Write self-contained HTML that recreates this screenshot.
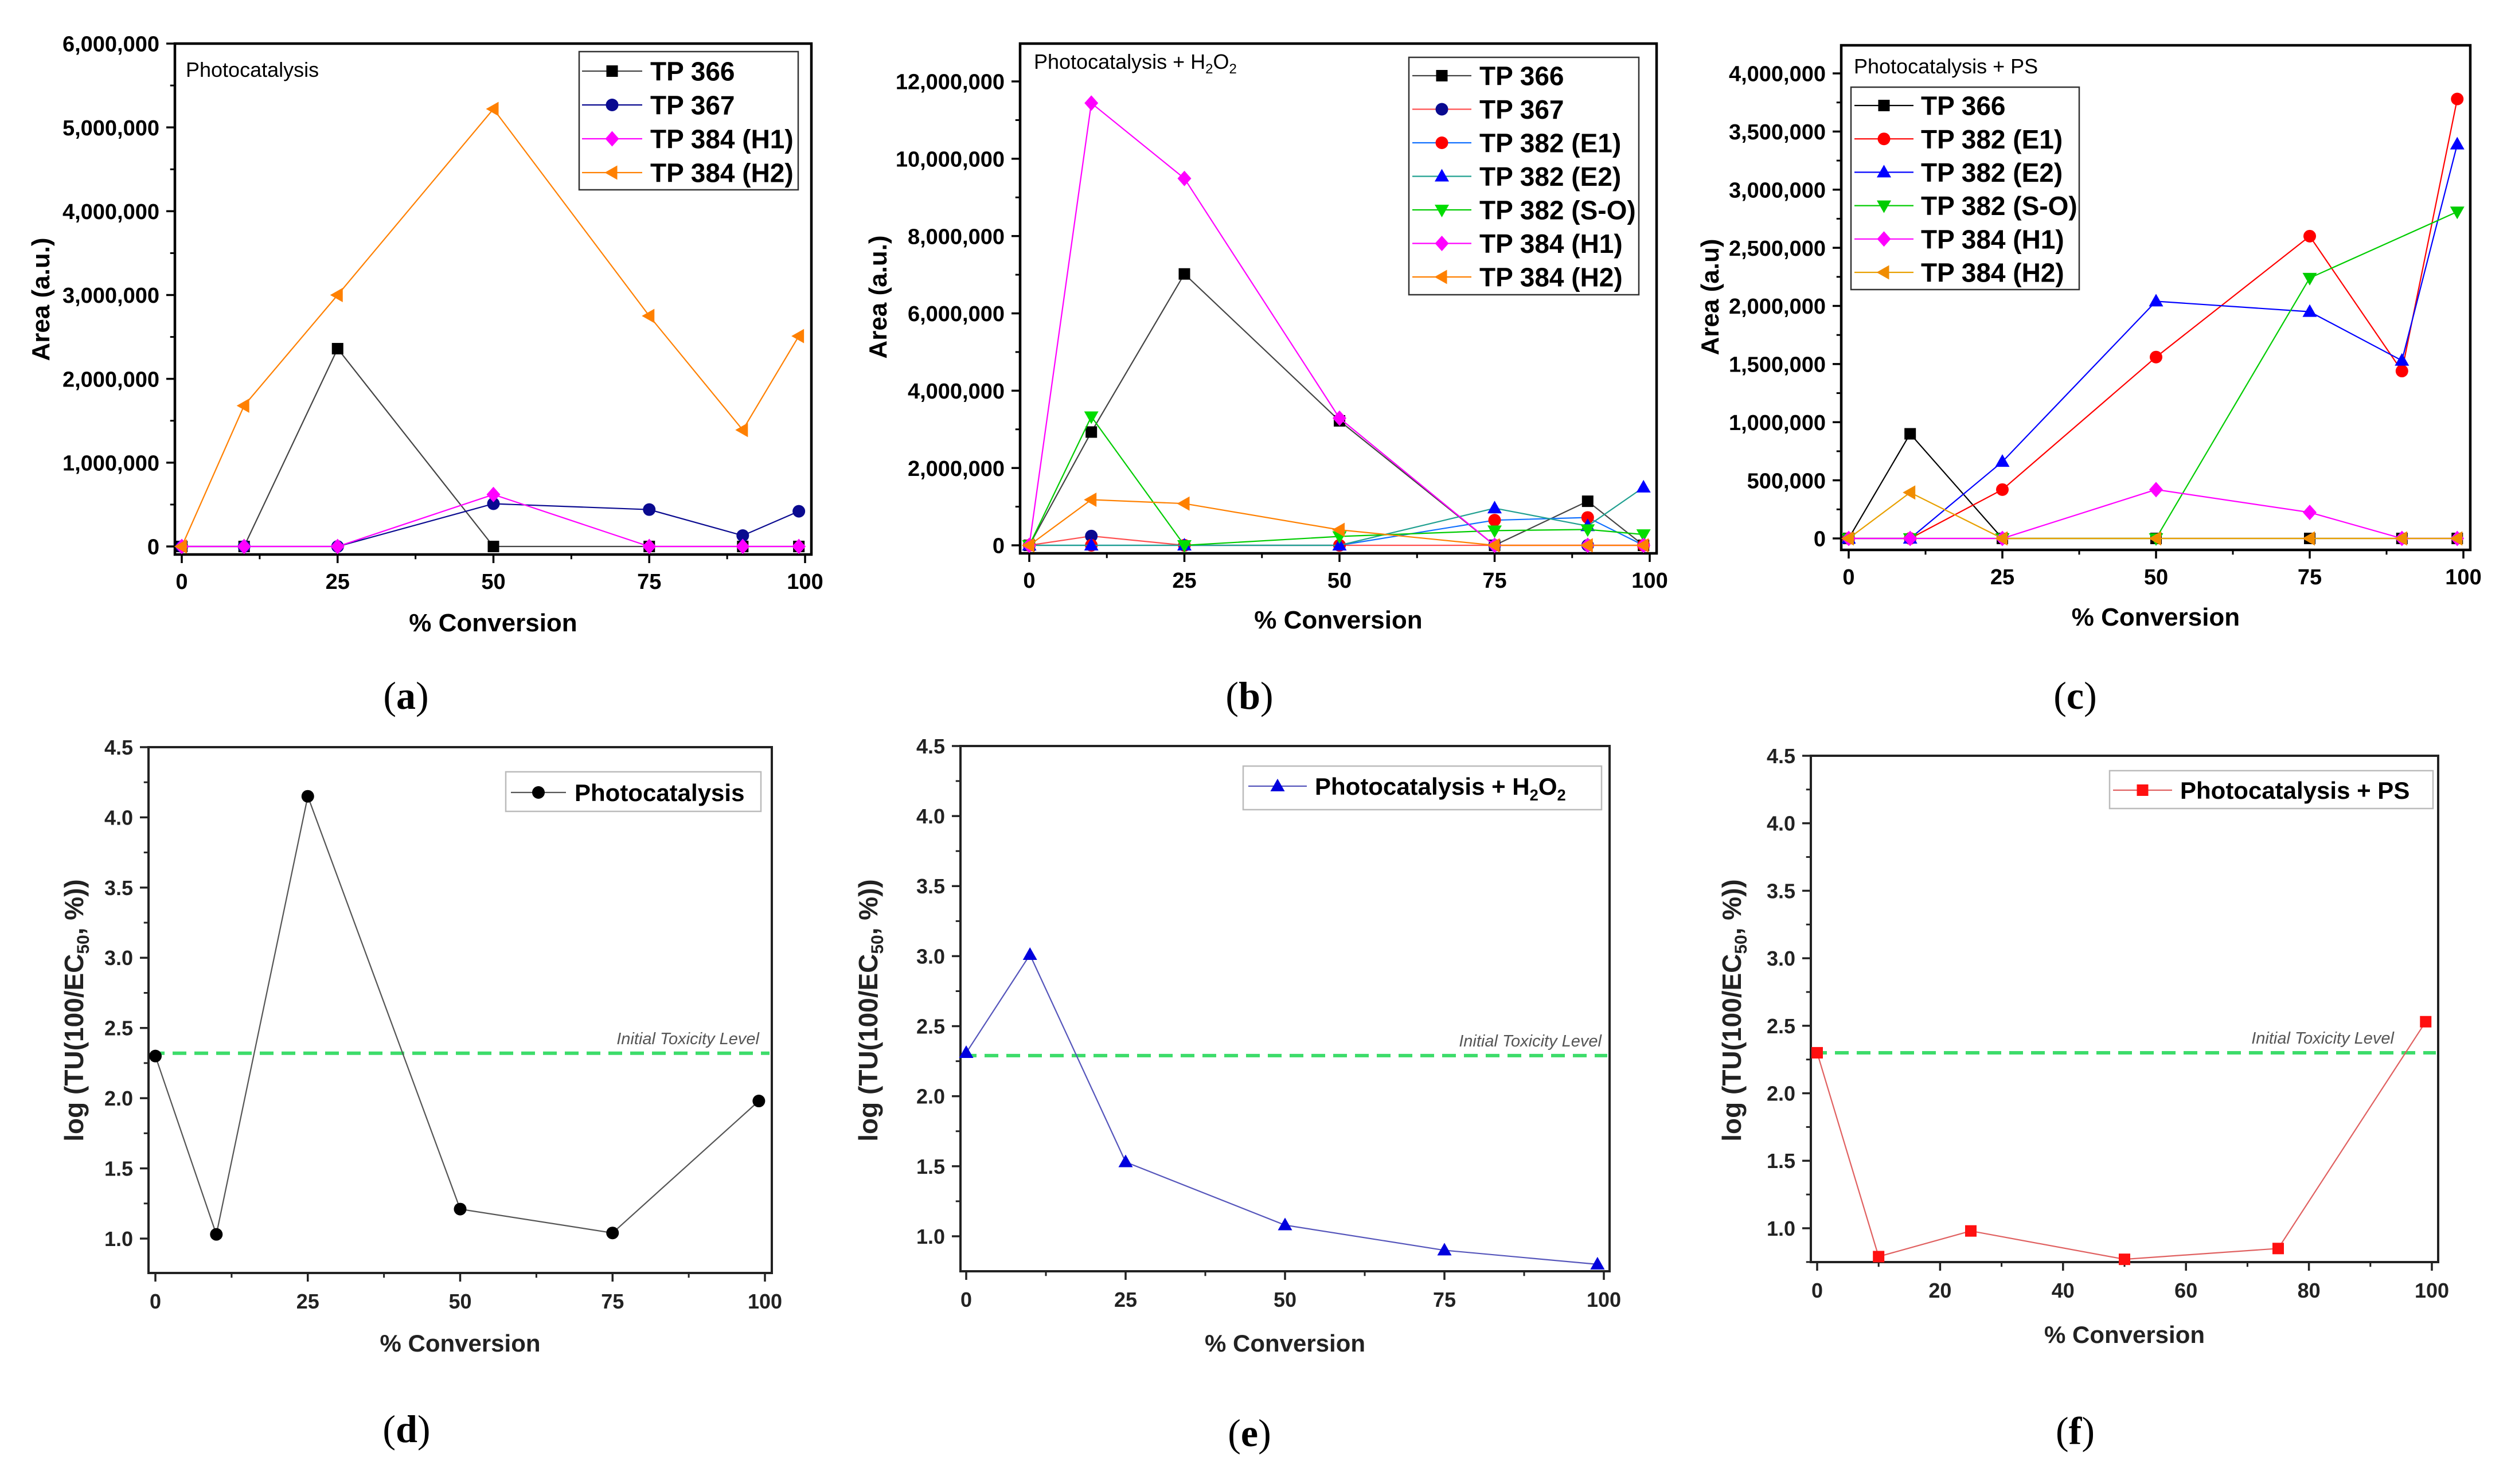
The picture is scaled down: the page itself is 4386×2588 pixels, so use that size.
<!DOCTYPE html>
<html><head><meta charset="utf-8"><title>Conversion charts</title>
<style>
html,body{margin:0;padding:0;background:#fff;}
svg{display:block;}
text{font-family:"Liberation Sans",sans-serif;}
text.serif{font-family:"Liberation Serif",serif;}
</style></head>
<body>
<svg id="fig" xmlns="http://www.w3.org/2000/svg" width="4386" height="2588" viewBox="0 0 4386 2588">
<rect x="0" y="0" width="4386" height="2588" fill="#fff"/>
</svg>
<script>
// ---------- DATA ----------
const xTop = [0, 10, 25, 50, 75, 90, 99];
const xBottom = [0, 10, 25, 50, 75, 99];

const aTP366 = [0, 0, 2360000, 0, 0, 0, 0];
const aTP367 = [0, 0, 0, 510000, 440000, 130000, 420000];
const aTP384H1 = [0, 0, 0, 620000, 0, 0, 0];
const aTP384H2 = [0, 1680000, 3000000, 5220000, 2750000, 1390000, 2510000];
const aYTicks = [0, 1000000, 2000000, 3000000, 4000000, 5000000, 6000000];

const bTP366 = [0, 2930000, 7020000, 3220000, 0, 1140000, 0];
const bTP367 = [0, 240000, 0, 0, 0, 0, 0];
const bTP382E1 = [0, 0, 0, 0, 650000, 720000, 0];
const bTP382E2 = [0, 0, 0, 0, 960000, 500000, 1500000];
const bTP382SO = [0, 3330000, 0, 230000, 380000, 410000, 280000];
const bTP384H1 = [0, 11440000, 9490000, 3290000, 0, 0, 0];
const bTP384H2 = [0, 1180000, 1080000, 400000, 0, 0, 0];
const bYTicks = [0, 2000000, 4000000, 6000000, 8000000, 10000000, 12000000];

const cTP366 = [0, 900000, 0, 0, 0, 0, 0];
const cTP382E1 = [0, 0, 420000, 1560000, 2600000, 1440000, 3780000];
const cTP382E2 = [0, 0, 660000, 2040000, 1950000, 1530000, 3390000];
const cTP382SO = [0, 0, 0, 0, 2240000, null, 2810000];
const cTP384H1 = [0, 0, 0, 420000, 224000, 0, 0];
const cTP384H2 = [0, 395000, 0, 0, 0, 0, 0];
const cYTicks = [0, 500000, 1000000, 1500000, 2000000, 2500000, 3000000, 3500000, 4000000];

const dValues = [2.30, 1.03, 4.15, 1.21, 1.04, 1.98];
const eValues = [2.31, 3.01, 1.53, 1.08, 0.90, 0.80];
const fValues = [2.30, 0.79, 0.98, 0.77, 0.85, 2.53];
const initialToxicity = [2.32, 2.29, 2.30];
const toxYTicks = [1.0, 1.5, 2.0, 2.5, 3.0, 3.5, 4.0, 4.5];
const xTicks25 = [0, 25, 50, 75, 100];
const xTicks20 = [0, 20, 40, 60, 80, 100];

// ---------- DRAWING ----------
const NS = 'http://www.w3.org/2000/svg';
const svg = document.getElementById('fig');
function mk(tag, attrs, parent) {
  const e = document.createElementNS(NS, tag);
  for (const k in attrs) e.setAttribute(k, attrs[k]);
  (parent || svg).appendChild(e);
  return e;
}
function scaler(p) {
  return {
    x: v => p.x0 + (v - p.xmin) / (p.xmax - p.xmin) * (p.x1 - p.x0),
    y: v => p.yv0px + (v - p.yv0) / (p.yv1 - p.yv0) * (p.yv1px - p.yv0px)
  };
}
function marker(g, type, cx, cy, s, color) {
  let e;
  if (type === 'square') e = mk('rect', {x: cx - s, y: cy - s, width: 2 * s, height: 2 * s, fill: color}, g);
  else if (type === 'circle') e = mk('circle', {cx: cx, cy: cy, r: s * 1.1, fill: color}, g);
  else if (type === 'diamond') e = mk('polygon', {points: `${cx},${cy - s * 1.35} ${cx + s * 1.2},${cy} ${cx},${cy + s * 1.35} ${cx - s * 1.2},${cy}`, fill: color}, g);
  else if (type === 'up') e = mk('polygon', {points: `${cx},${cy - s * 1.3} ${cx + s * 1.25},${cy + s * 0.9} ${cx - s * 1.25},${cy + s * 0.9}`, fill: color}, g);
  else if (type === 'down') e = mk('polygon', {points: `${cx},${cy + s * 1.3} ${cx + s * 1.25},${cy - s * 0.9} ${cx - s * 1.25},${cy - s * 0.9}`, fill: color}, g);
  else if (type === 'left') e = mk('polygon', {points: `${cx - s * 1.3},${cy} ${cx + s * 0.9},${cy - s * 1.25} ${cx + s * 0.9},${cy + s * 1.25}`, fill: color}, g);
  
  
  return e;
}
function drawPanel(p) {
  const sc = scaler(p);
  const g = mk('g', {});
  
  
  const fr = mk('rect', {x: p.fl, y: p.ft, width: p.fr - p.fl, height: p.fb - p.ft, fill: 'none', stroke: p.frameColor, 'stroke-width': p.frameW}, g);
  
  
  const yt = p.yTicks;
  const ystep = yt[1] - yt[0];
  for (let i = 0; i < yt.length; i++) {
    const y = sc.y(yt[i]);
    const t = mk('line', {x1: p.fl - p.tickLen, x2: p.fl, y1: y, y2: y, stroke: p.frameColor, 'stroke-width': 3.5}, g);
    
    
    const lab = mk('text', {x: p.fl - p.tickLen - 12, y: y + p.tickFont * 0.36, 'text-anchor': 'end', 'font-size': p.tickFont, 'font-weight': 'bold', fill: p.textColor}, g);
    lab.textContent = p.fmt(yt[i]);
    
    
    const mv = yt[i] + ystep / 2;
    if (sc.y(mv) >= p.ft - 1) {
      const m = mk('line', {x1: p.fl - p.tickLen * 0.55, x2: p.fl, y1: sc.y(mv), y2: sc.y(mv), stroke: p.frameColor, 'stroke-width': 3}, g);
      
      
    }
    const mv2 = yt[0] - ystep / 2;
    if (i === 0 && sc.y(mv2) <= p.fb) {
      const m2 = mk('line', {x1: p.fl - p.tickLen * 0.55, x2: p.fl, y1: sc.y(mv2), y2: sc.y(mv2), stroke: p.frameColor, 'stroke-width': 3}, g);
      
      
    }
  }
  const xt = p.xTicks;
  const xstep = xt[1] - xt[0];
  for (let i = 0; i < xt.length; i++) {
    const x = sc.x(xt[i]);
    const t = mk('line', {x1: x, x2: x, y1: p.fb, y2: p.fb + p.tickLen, stroke: p.frameColor, 'stroke-width': 3.5}, g);
    
    
    const lab = mk('text', {x: x, y: p.fb + p.xLabOff, 'text-anchor': 'middle', 'font-size': p.tickFont, 'font-weight': 'bold', fill: p.textColor}, g);
    lab.textContent = String(xt[i]);
    
    
    if (i < xt.length - 1) {
      const mx = sc.x(xt[i] + xstep / 2);
      const m = mk('line', {x1: mx, x2: mx, y1: p.fb, y2: p.fb + p.tickLen * 0.55, stroke: p.frameColor, 'stroke-width': 3}, g);
      
      
    }
  }
  const xtitle = mk('text', {x: (p.fl + p.fr) / 2, y: p.xTitleY, 'text-anchor': 'middle', 'font-size': p.titleFont, 'font-weight': 'bold', fill: p.textColor}, g);
  xtitle.textContent = '% Conversion';
  
  
  const yf = p.yTitleFont || p.titleFont;
  const ytitle = mk('text', {x: 0, y: 0, 'text-anchor': 'middle', 'font-size': yf, 'font-weight': 'bold', fill: p.textColor, transform: `translate(${p.yTitleX},${p.yTitleY}) rotate(-90)`}, g);
  if (p.toxTitle) {
    ytitle.appendChild(document.createTextNode('log (TU(100/EC'));
    const sub = mk('tspan', {'font-size': yf * 0.65, dy: 10}, ytitle);
    sub.textContent = '50';
    const rest = mk('tspan', {dy: -10}, ytitle);
    rest.textContent = ', %))';
  } else {
    ytitle.textContent = p.yTitle;
  }
  
  
  if (p.refLevel !== undefined) {
    const ry = sc.y(p.refLevel);
    const rl = mk('line', {x1: p.fl + 4, x2: p.fr - 4, y1: ry, y2: ry, stroke: '#3ddc6a', 'stroke-width': 6, 'stroke-dasharray': '24 14'}, g);
    
    
    const rt = mk('text', {x: p.refTextX, y: ry - 16, 'text-anchor': 'end', 'font-size': 29, 'font-style': 'italic', fill: '#555'}, g);
    rt.textContent = 'Initial Toxicity Level';
    
    
  }
  p.series.forEach(s => {
    const sg = mk('g', {}, g);
    
    
    let d = '';
    let pen = false;
    for (let i = 0; i < s.values.length; i++) {
      if (s.values[i] === null) continue;
      d += (pen ? 'L' : 'M') + sc.x(p.xs[i]).toFixed(1) + ',' + sc.y(s.values[i]).toFixed(1);
      pen = true;
    }
    const pl = mk('path', {d: d, fill: 'none', stroke: s.line, 'stroke-width': p.lineW}, sg);
    
    
    for (let i = 0; i < s.values.length; i++) {
      if (s.values[i] === null) continue;
      marker(sg, s.marker, sc.x(p.xs[i]), sc.y(s.values[i]), p.mSize, s.color);
    }
  });
  if (p.title) {
    const tt = mk('text', {x: p.titleX, y: p.titleY, 'font-size': 36, fill: '#000'}, g);
    tt.appendChild(document.createTextNode(p.title));
    if (p.titleH2O2) {
      const s1 = mk('tspan', {'font-size': 24, dy: 8}, tt); s1.textContent = '2';
      const s2 = mk('tspan', {dy: -8}, tt); s2.textContent = 'O';
      const s3 = mk('tspan', {'font-size': 24, dy: 8}, tt); s3.textContent = '2';
    }
    
    
  }
  const L = p.legend;
  const lg = mk('g', {}, g);
  
  
  const lb = mk('rect', {x: L.x, y: L.y, width: L.w, height: L.h, fill: '#fff', stroke: L.border, 'stroke-width': 2.5}, lg);
  
  
  p.series.forEach((s, i) => {
    const ey = L.firstY + i * L.step;
    const le = mk('g', {}, lg);
    
    
    mk('line', {x1: L.lx1, x2: L.lx2, y1: ey, y2: ey, stroke: s.line, 'stroke-width': p.lineW}, le);
    marker(le, s.marker, (L.lx1 + L.lx2) / 2, ey, p.mSize, s.color);
    const t = mk('text', {x: L.tx, y: ey + L.font * 0.36, 'font-size': L.font, 'font-weight': 'bold', fill: '#000'}, le);
    t.appendChild(document.createTextNode(s.label));
    if (s.h2o2) {
      const s1 = mk('tspan', {'font-size': L.font * 0.65, dy: 10}, t); s1.textContent = '2';
      const s2 = mk('tspan', {dy: -10}, t); s2.textContent = 'O';
      const s3 = mk('tspan', {'font-size': L.font * 0.65, dy: 10}, t); s3.textContent = '2';
    }
  });
  const pl = mk('text', {x: p.letterX, y: p.letterY, 'text-anchor': 'middle', 'font-size': 68, fill: '#000', class: 'serif', style: 'font-family:"Liberation Serif",serif'}, g);
  pl.textContent = '(';
  const b = mk('tspan', {'font-weight': 'bold'}, pl); b.textContent = p.letter;
  const c = mk('tspan', {}, pl); c.textContent = ')';
  
  
}
const fmtInt = v => v.toLocaleString('en-US');
const fmt1 = v => v.toFixed(1);
const topCommon = {frameColor: '#000', textColor: '#000', frameW: 4.5, tickLen: 15, tickFont: 38, xLabOff: 60, titleFont: 44, lineW: 2.2, mSize: 10, yTitle: 'Area (a.u.)', xmin: 0, xmax: 100, xTicks: xTicks25, xs: xTop};
const botCommon = {frameColor: '#222', textColor: '#222', frameW: 4, tickLen: 15, tickFont: 36, xLabOff: 62, titleFont: 42, yTitleFont: 46, lineW: 2.2, mSize: 10, toxTitle: true, xmin: 0, xmax: 100, xs: xBottom, fmt: fmt1, yTicks: toxYTicks, yv0: 1.0, yv1: 4.5};

drawPanel(Object.assign({}, topCommon, {
  name: 'chart-a', letter: 'a', fl: 305, fr: 1415, ft: 76, fb: 967, x0: 317, x1: 1404,
  yv0: 0, yv1: 6000000, yv0px: 953, yv1px: 76, yTicks: aYTicks, fmt: fmtInt,
  xTitleY: 1101, yTitleX: 86, yTitleY: 522, title: 'Photocatalysis', titleX: 324, titleY: 134,
  letterX: 708, letterY: 1236,
  legend: {x: 1010, y: 90, w: 382, h: 241, border: '#333', firstY: 124, step: 59, lx1: 1015, lx2: 1120, tx: 1134, font: 46},
  series: [
    {key: 'tp366', label: 'TP 366', values: aTP366, color: '#000', line: '#444', marker: 'square'},
    {key: 'tp367', label: 'TP 367', values: aTP367, color: '#0a0a90', line: '#0a0a90', marker: 'circle'},
    {key: 'tp384-h1', label: 'TP 384 (H1)', values: aTP384H1, color: '#ff00ff', line: '#ff00ff', marker: 'diamond'},
    {key: 'tp384-h2', label: 'TP 384 (H2)', values: aTP384H2, color: '#ff8000', line: '#ff8000', marker: 'left'}
  ]
}));
drawPanel(Object.assign({}, topCommon, {
  name: 'chart-b', letter: 'b', fl: 1779, fr: 2889, ft: 76, fb: 965, x0: 1795, x1: 2877,
  yv0: 0, yv1: 12000000, yv0px: 951, yv1px: 142, yTicks: bYTicks, fmt: fmtInt,
  xTitleY: 1096, yTitleX: 1546, yTitleY: 518, title: 'Photocatalysis + H', titleH2O2: true, titleX: 1803, titleY: 120,
  letterX: 2179, letterY: 1236,
  legend: {x: 2457, y: 100, w: 401, h: 414, border: '#333', firstY: 132, step: 58.5, lx1: 2463, lx2: 2566, tx: 2580, font: 46},
  series: [
    {key: 'tp366', label: 'TP 366', values: bTP366, color: '#000', line: '#444', marker: 'square'},
    {key: 'tp367', label: 'TP 367', values: bTP367, color: '#0a0a90', line: '#ff5050', marker: 'circle'},
    {key: 'tp382-e1', label: 'TP 382 (E1)', values: bTP382E1, color: '#ff0000', line: '#1070ff', marker: 'circle'},
    {key: 'tp382-e2', label: 'TP 382 (E2)', values: bTP382E2, color: '#0000ff', line: '#20a090', marker: 'up'},
    {key: 'tp382-so', label: 'TP 382 (S-O)', values: bTP382SO, color: '#00dd00', line: '#00cc00', marker: 'down'},
    {key: 'tp384-h1', label: 'TP 384 (H1)', values: bTP384H1, color: '#ff00ff', line: '#ff00ff', marker: 'diamond'},
    {key: 'tp384-h2', label: 'TP 384 (H2)', values: bTP384H2, color: '#ff8000', line: '#ff8000', marker: 'left'}
  ]
}));
drawPanel(Object.assign({}, topCommon, {
  name: 'chart-c', letter: 'c', fl: 3211, fr: 4308, ft: 79, fb: 959, x0: 3224, x1: 4296,
  yv0: 0, yv1: 4000000, yv0px: 939, yv1px: 128, yTicks: cYTicks, fmt: fmtInt,
  xTitleY: 1091, yTitleX: 2997, yTitleY: 518, yTitle: 'Area (a.u)', title: 'Photocatalysis + PS', titleX: 3233, titleY: 128,
  letterX: 3619, letterY: 1236,
  legend: {x: 3228, y: 152, w: 398, h: 353, border: '#333', firstY: 184, step: 58.2, lx1: 3234, lx2: 3337, tx: 3350, font: 46},
  series: [
    {key: 'tp366', label: 'TP 366', values: cTP366, color: '#000', line: '#000', marker: 'square'},
    {key: 'tp382-e1', label: 'TP 382 (E1)', values: cTP382E1, color: '#ff0000', line: '#ff0000', marker: 'circle'},
    {key: 'tp382-e2', label: 'TP 382 (E2)', values: cTP382E2, color: '#0000ff', line: '#0000ff', marker: 'up'},
    {key: 'tp382-so', label: 'TP 382 (S-O)', values: cTP382SO, color: '#00cc00', line: '#00cc00', marker: 'down'},
    {key: 'tp384-h1', label: 'TP 384 (H1)', values: cTP384H1, color: '#ff00ff', line: '#ff00ff', marker: 'diamond'},
    {key: 'tp384-h2', label: 'TP 384 (H2)', values: cTP384H2, color: '#f08c00', line: '#e8a000', marker: 'left'}
  ]
}));
drawPanel(Object.assign({}, botCommon, {
  name: 'chart-d', letter: 'd', fl: 259, fr: 1346, ft: 1303, fb: 2220, x0: 271, x1: 1334,
  yv0px: 2160, yv1px: 1303, xTicks: xTicks25, refLevel: initialToxicity[0], refTextX: 1324,
  xTitleY: 2357, yTitleX: 145, yTitleY: 1762, letterX: 709, letterY: 2515,
  legend: {x: 882, y: 1346, w: 445, h: 69, border: '#bbb', firstY: 1382, step: 0, lx1: 891, lx2: 987, tx: 1002, font: 42},
  series: [{key: 'photocatalysis', label: 'Photocatalysis', values: dValues, color: '#000', line: '#555', marker: 'circle'}]
}));
drawPanel(Object.assign({}, botCommon, {
  name: 'chart-e', letter: 'e', fl: 1675, fr: 2807, ft: 1301, fb: 2217, x0: 1685, x1: 2797,
  yv0px: 2156, yv1px: 1301, xTicks: xTicks25, refLevel: initialToxicity[1], refTextX: 2793,
  xTitleY: 2357, yTitleX: 1530, yTitleY: 1762, letterX: 2179, letterY: 2522,
  legend: {x: 2168, y: 1336, w: 625, h: 76, border: '#bbb', firstY: 1371, step: 0, lx1: 2177, lx2: 2279, tx: 2293, font: 42},
  series: [{key: 'photocatalysis-h2o2', label: 'Photocatalysis + H', h2o2: true, values: eValues, color: '#0000dd', line: '#5555bb', marker: 'up'}]
}));
drawPanel(Object.assign({}, botCommon, {
  name: 'chart-f', letter: 'f', fl: 3158, fr: 4252, ft: 1318, fb: 2201, x0: 3169, x1: 4241,
  yv0px: 2142, yv1px: 1318, xTicks: xTicks20, refLevel: initialToxicity[2], refTextX: 4175,
  xTitleY: 2342, yTitleX: 3036, yTitleY: 1762, letterX: 3619, letterY: 2518,
  legend: {x: 3679, y: 1344, w: 564, h: 66, border: '#bbb', firstY: 1378, step: 0, lx1: 3685, lx2: 3788, tx: 3802, font: 42},
  series: [{key: 'photocatalysis-ps', label: 'Photocatalysis + PS', values: fValues, color: '#ff1010', line: '#e06060', marker: 'square'}]
}));
</script>
</body></html>
